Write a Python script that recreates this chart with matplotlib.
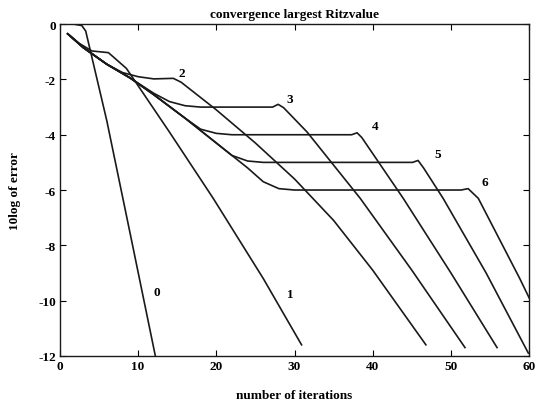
import numpy as np
from matplotlib import pyplot as plt

# iteration / 10log(error) pairs, one pair per curve
it0 = [1.8, 2.8, 3.3, 6.0, 9.0, 12.2]
err0 = [0.0, -0.05, -0.25, -3.5, -7.6, -12.0]

it1 = [1.0, 2.5, 4.1, 6.2, 8.5, 14.0, 19.6, 26.0, 30.9]
err1 = [-0.35, -0.7, -0.97, -1.03, -1.6, -3.9, -6.3, -9.2, -11.6]

it2 = [1.0, 3.0, 6.0, 8.0, 10.0, 12.0, 14.5, 15.5, 20.0, 25.0, 30.0, 35.0, 40.0, 46.8]
err2 = [-0.35, -0.85, -1.45, -1.75, -1.9, -1.98, -1.96, -2.1, -3.1, -4.3, -5.6, -7.1, -8.9, -11.6]

it3 = [1.0, 3.0, 6.0, 9.0, 12.0, 14.0, 16.0, 18.0, 27.2, 27.9, 28.6, 31.6, 35.0, 38.4, 45.0, 51.8]
err3 = [-0.35, -0.85, -1.45, -1.95, -2.5, -2.8, -2.95, -3.0, -3.0, -2.9, -3.02, -3.9, -5.1, -6.3, -8.9, -11.7]

it4 = [1.0, 3.0, 6.0, 9.0, 12.0, 16.0, 18.0, 20.0, 22.0, 37.3, 38.0, 38.6, 43.9, 50.0, 55.9]
err4 = [-0.35, -0.85, -1.45, -1.95, -2.55, -3.4, -3.8, -3.95, -4.0, -4.0, -3.93, -4.1, -6.3, -9.0, -11.7]

it5 = [1.0, 3.0, 6.0, 9.0, 12.0, 16.0, 20.0, 22.0, 24.0, 26.0, 45.1, 45.8, 46.5, 49.0, 54.5, 59.9]
err5 = [-0.35, -0.85, -1.45, -1.95, -2.55, -3.4, -4.3, -4.75, -4.95, -5.0, -5.0, -4.93, -5.2, -6.3, -9.0, -11.9]

it6 = [1.0, 3.0, 6.0, 9.0, 12.0, 16.0, 20.0, 24.0, 26.0, 28.0, 30.0, 51.3, 52.2, 53.5, 58.8, 60.0]
err6 = [-0.35, -0.85, -1.45, -1.95, -2.55, -3.4, -4.3, -5.2, -5.7, -5.95, -6.0, -6.0, -5.95, -6.3, -9.2, -9.9]

curve_labels = ["0", "1", "2", "3", "4", "5", "6"]
label_x = [12.4, 29.4, 15.6, 29.4, 40.3, 48.3, 54.3]
label_y = [-9.7, -9.75, -1.77, -2.7, -3.7, -4.7, -5.7]

curves = [(it0, err0), (it1, err1), (it2, err2), (it3, err3),
          (it4, err4), (it5, err5), (it6, err6)]

plt.rcParams['font.family'] = ['Liberation Serif', 'DejaVu Serif']
plt.rcParams['font.weight'] = 'bold'
plt.rcParams['axes.unicode_minus'] = False

fig = plt.figure(figsize=(5.35, 4.06), dpi=100)
ax = fig.add_axes([0.112, 0.121, 0.877, 0.817])

for x, y in curves:
    ax.plot(x, y, color='#1a1a1a', lw=1.2)

for s, lx, ly in zip(curve_labels, label_x, label_y):
    ax.text(lx, ly, s, fontsize=9.5, fontweight='bold', ha='center', va='center')

ax.set_xlim(0, 60)
ax.set_ylim(-12, 0)
ax.set_xticks(np.arange(0, 61, 10))
ax.set_yticks(np.arange(-12, 1, 2))
ax.tick_params(direction='in', length=4, width=0.8, top=True, right=True,
               labelsize=9.5, pad=3)
for sp in ax.spines.values():
    sp.set_linewidth(1.0)
    sp.set_color('#1a1a1a')

ax.set_title('convergence largest Ritzvalue', fontsize=9.5, fontweight='bold', pad=5)
ax.set_xlabel('number of iterations', fontsize=9.5, fontweight='bold', labelpad=12)
ax.set_ylabel('10log of error', fontsize=9.5, fontweight='bold', labelpad=12)

fig.savefig('out.png', dpi=100)
